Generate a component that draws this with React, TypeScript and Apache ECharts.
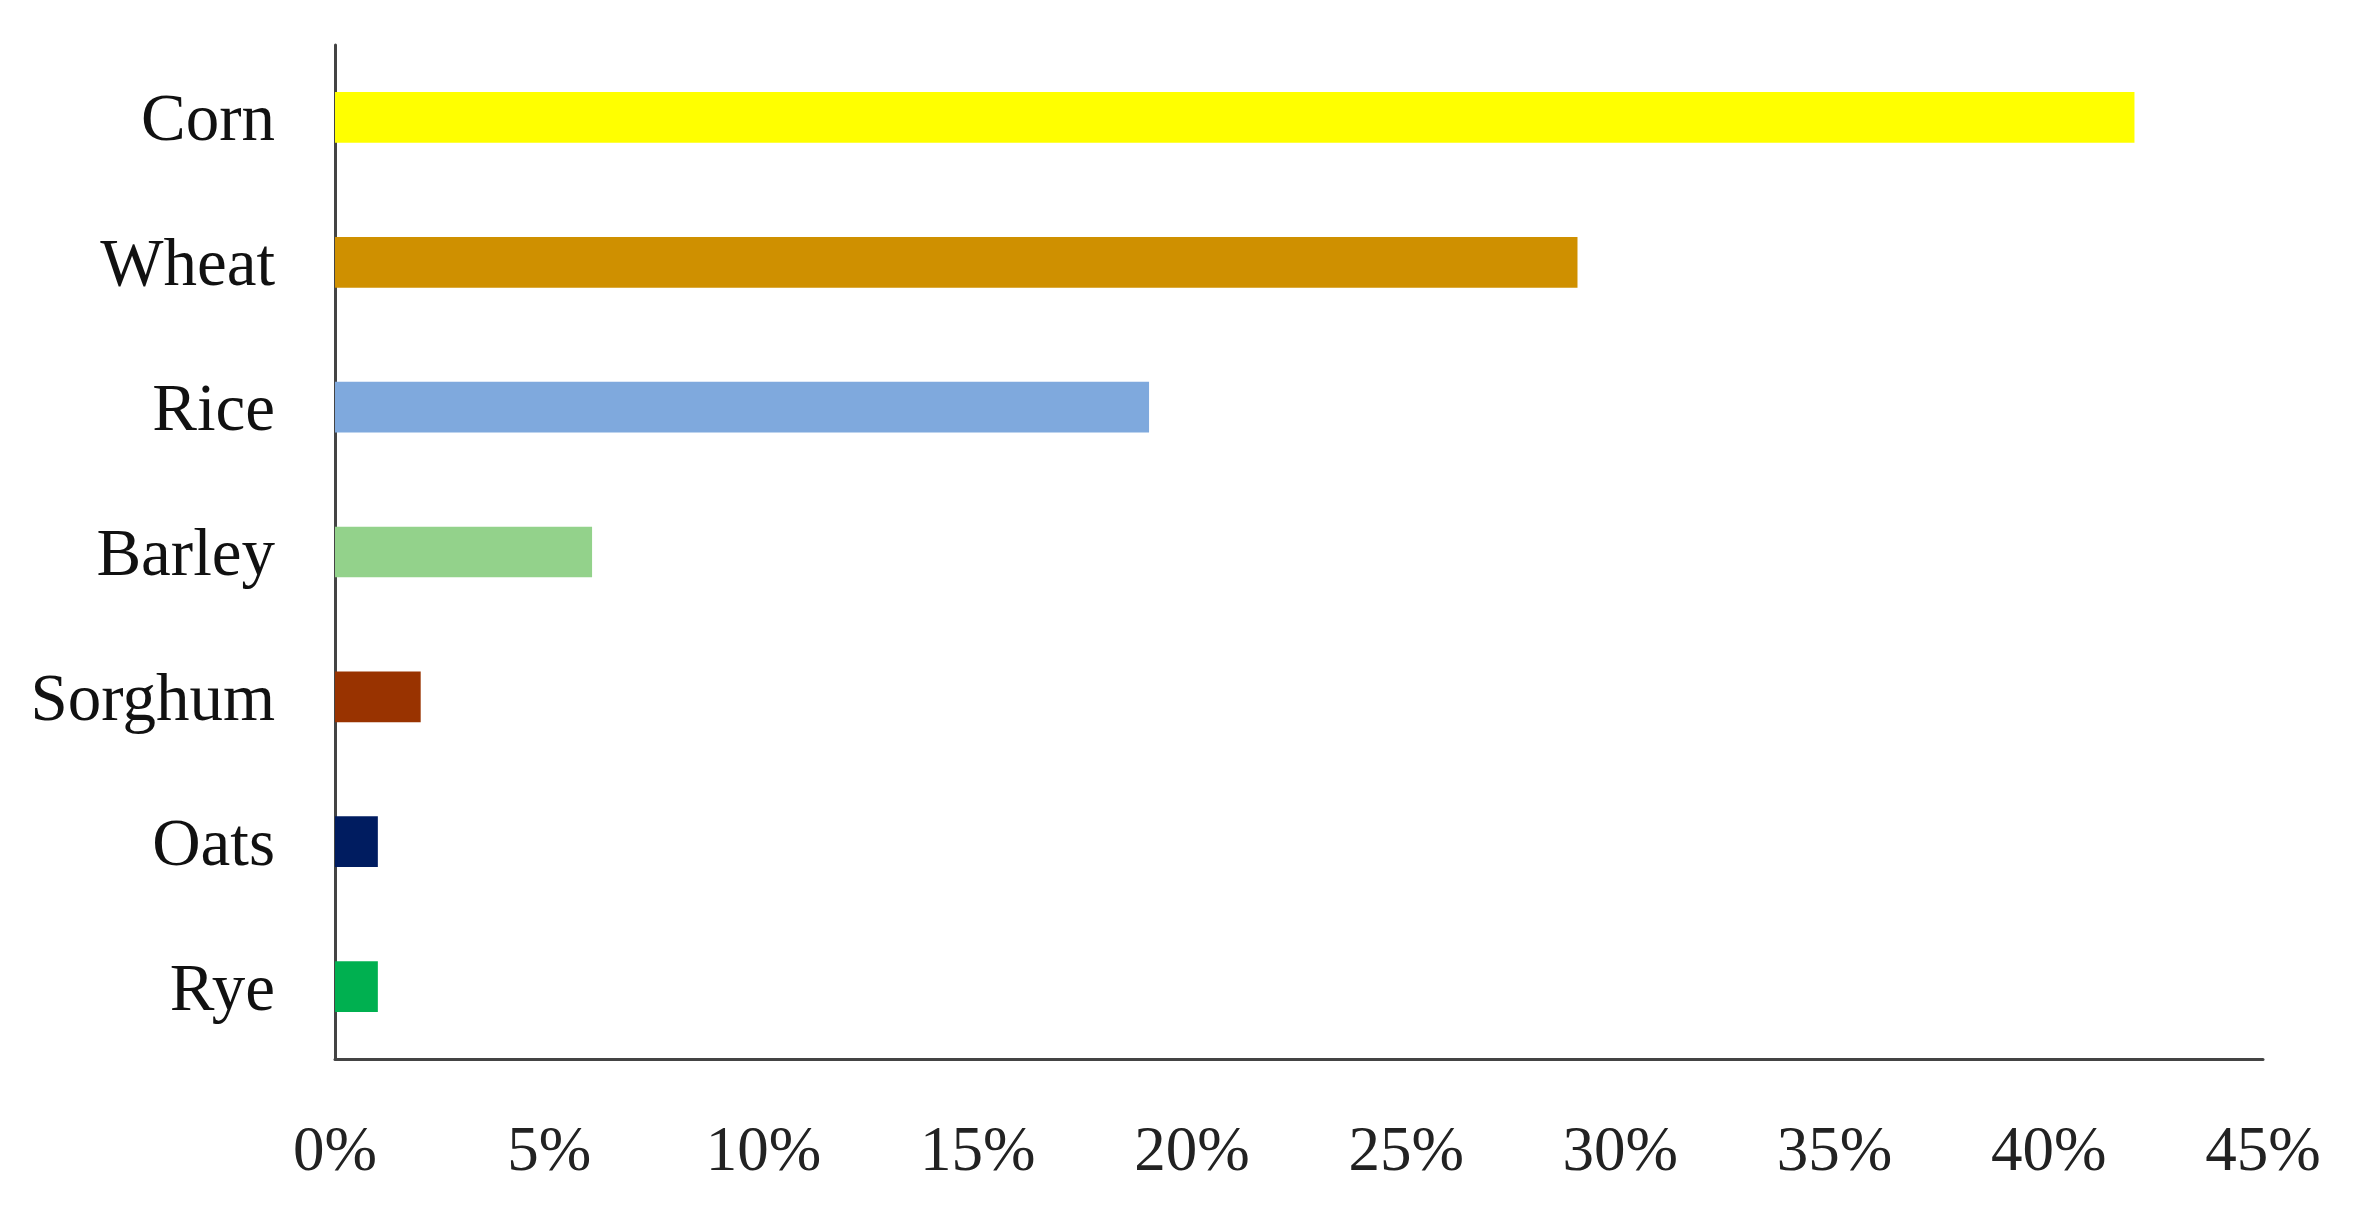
import React, { useEffect, useRef } from "react";
import * as echarts from "echarts";

const categories = ["Corn", "Wheat", "Rice", "Barley", "Sorghum", "Oats", "Rye"];
const shares = [42, 29, 19, 6, 2, 1, 1];
const barColors = ["#FFFF00", "#CF9000", "#7FA9DD", "#93D28B", "#993300", "#001C60", "#00B050"];
const xTicks = [0, 5, 10, 15, 20, 25, 30, 35, 40, 45];

export default function App() {
  const ref = useRef<HTMLDivElement>(null);
  useEffect(() => {
    if (!ref.current) return;
    const chart = echarts.init(ref.current, null, { renderer: "svg" });
    const font = "'Liberation Serif', 'Times New Roman', serif";
    chart.setOption({
      animation: false,
      backgroundColor: "#ffffff",
      grid: { left: 335, top: 45, right: 2353 - 2263, bottom: 1211 - 1059, containLabel: false },
      xAxis: {
        type: "value",
        min: xTicks[0],
        max: xTicks[xTicks.length - 1],
        interval: 5,
        axisLine: { show: true, lineStyle: { color: "#444444", width: 3 } },
        axisTick: { show: false },
        splitLine: { show: false },
        axisLabel: {
          margin: 58,
          fontFamily: font,
          fontSize: 63,
          color: "#222222",
          formatter: (v: number) => `${v}%`,
        },
      },
      yAxis: {
        type: "category",
        inverse: true,
        data: categories,
        axisLine: { show: true, lineStyle: { color: "#444444", width: 3 } },
        axisTick: { show: false },
        splitLine: { show: false },
        axisLabel: {
          margin: 60,
          fontFamily: font,
          fontSize: 67,
          color: "#111111",
        },
      },
      series: [
        {
          type: "bar",
          barWidth: "35%",
          data: shares.map((v, i) => ({ value: v, itemStyle: { color: barColors[i] } })),
        },
      ],
    });
    return () => chart.dispose();
  }, []);
  return (
    <div
      ref={ref}
      style={{ position: "fixed", left: 0, top: 0, width: 2353, height: 1211, background: "#fff" }}
    />
  );
}
